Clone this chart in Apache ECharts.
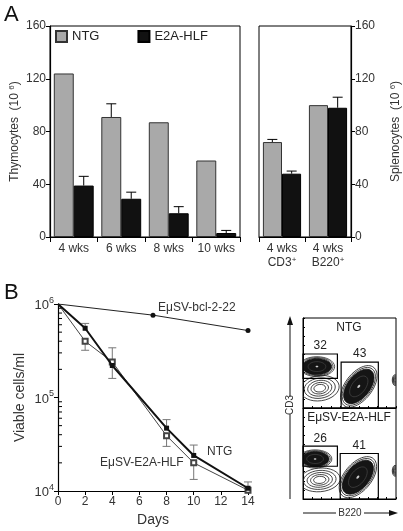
<!DOCTYPE html>
<html>
<head>
<meta charset="utf-8">
<script src="https://cdn.jsdelivr.net/npm/echarts@6/dist/echarts.min.js"></script>
<style>html,body{margin:0;padding:0;background:#fff}#c{width:403px;height:531px}</style>
</head>
<body>
<div id="c"></div>
<script>
// ---------- Panel A data ----------
const thyCats = ['4 wks', '6 wks', '8 wks', '10 wks'];
const thyNTG = [124, 91, 87, 58];
const thyE2A = [39, 29, 18, 3];
const thyNTGErr = [null, 101, null, null];
const thyE2AErr = [46, 34, 23, 5];

const splCats = ['4 wks\nCD3+', '4 wks\nB220+'];
const splNTG = [72, 100];
const splE2A = [48, 98];
const splNTGErr = [74, null];
const splE2AErr = [50, 106];

const barTicks = [0, 40, 80, 120, 160];

// ---------- Panel B data ----------
const days = [0, 2, 4, 8, 10, 14];
const ntgViable = [1e6, 5.5e5, 2.2e5, 4.7e4, 2.4e4, 1.07e4];
const ntgLo = [null, null, 1.6e5, null, null, null];
const ntgHi = [null, 6.2e5, null, 5.8e4, 3.1e4, 1.25e4];
const e2aViable = [1e6, 4.0e5, 2.4e5, 3.9e4, 2.0e4, 1.02e4];
const e2aLo = [null, 3.2e5, null, 3.0e4, 1.33e4, null];
const e2aHi = [null, null, 3.4e5, null, null, null];
const bclDays = [0, 7, 14];
const bclViable = [1e6, 7.6e5, 5.2e5];
const logMinor = [2e4, 3e4, 4e4, 5e4, 6e4, 7e4, 8e4, 9e4, 2e5, 3e5, 4e5, 5e5, 6e5, 7e5, 8e5, 9e5];

// ---------- Flow cytometry (x: B220, y: CD3, arbitrary 0-100 units) ----------
const flowTitles = ['NTG', 'EμSV-E2A-HLF'];
// gates: [x0, y0, x1, y1]
const flowGatesNTG = [[0, 33, 37, 60], [41, 0, 81, 51]];
const flowGatesE2A = [[0, 36, 37, 58], [40, 0, 81, 50]];
const flowPctNTG = [32, 43];
const flowPctE2A = [26, 41];
// populations: [cx, cy, rx, ry, angleDeg, dense(1)/loose(0)]
const flowPopsNTG = [[18, 22, 21, 14, 8, 0], [15, 46, 19, 11, 0, 1], [60, 24, 26, 15, 52, 1], [99, 31, 3, 6, 0, 0]];
const flowPopsE2A = [[18, 21, 22, 13, 5, 0], [13, 44, 18, 10, 0, 1], [59, 24, 26, 15, 50, 1], [99, 31, 3, 6, 0, 0]];

const FONT = 'Liberation Sans, Arial, Helvetica, sans-serif';
const TXT = '#333';

function barErr(sign) {
  return function (params, api) {
    const i = api.value(0), v = api.value(1), e = api.value(2);
    if (e == null || isNaN(e)) return;
    const band = api.size([1, 0])[0];
    const b = api.coord([i, v]), t = api.coord([i, e]);
    const x = b[0] + sign * band * 0.21;
    return {
      type: 'group', children: [
        { type: 'line', shape: { x1: x, y1: b[1], x2: x, y2: t[1] }, style: { stroke: '#000', lineWidth: 1 } },
        { type: 'line', shape: { x1: x - 5, y1: t[1], x2: x + 5, y2: t[1] }, style: { stroke: '#000', lineWidth: 1 } }
      ]
    };
  };
}
function errRows(cats, vals, errs) {
  return vals.map((v, i) => [i, v, errs[i] == null ? NaN : errs[i]]);
}
function lineErr(params, api) {
  const d = api.value(0), v = api.value(1), e = api.value(2);
  if (e == null || isNaN(e)) return;
  const p = api.coord([d, v]), q = api.coord([d, e]);
  return {
    type: 'group', children: [
      { type: 'line', shape: { x1: p[0], y1: p[1], x2: q[0], y2: q[1] }, style: { stroke: '#777', lineWidth: 1 } },
      { type: 'line', shape: { x1: q[0] - 4, y1: q[1], x2: q[0] + 4, y2: q[1] }, style: { stroke: '#777', lineWidth: 1 } }
    ]
  };
}
function vErrRows(vals, ends) {
  const out = [];
  days.forEach((d, i) => { if (ends[i] != null) out.push([d, vals[i], ends[i]]); });
  return out;
}
function minorTick(params, api) {
  const p = api.coord([0, api.value(1)]);
  return { type: 'line', shape: { x1: p[0], y1: p[1], x2: p[0] + 4, y2: p[1] }, style: { stroke: '#000', lineWidth: 1 } };
}
function popRender(params, api) {
  const cx = api.value(0), cy = api.value(1), rx = api.value(2), ry = api.value(3), ang = api.value(4), dense = api.value(5);
  const c = api.coord([cx, cy]);
  const s = api.size([rx, ry]);
  const children = [];
  const ring = (k, st) => children.push({ type: 'ellipse', shape: { cx: 0, cy: 0, rx: s[0] * k, ry: s[1] * k }, style: st });
  if (dense) {
    ring(1, { fill: null, stroke: '#222', lineWidth: 0.8 });
    ring(0.91, { fill: null, stroke: '#222', lineWidth: 0.8 });
    ring(0.83, { fill: '#151515', stroke: '#111', lineWidth: 0.8 });
    ring(0.5, { fill: null, stroke: '#555', lineWidth: 0.5 });
    ring(0.08, { fill: '#ccc', stroke: null });
  } else {
    [1, 0.8, 0.62, 0.45, 0.3].forEach(k => ring(k, { fill: null, stroke: '#222', lineWidth: 0.8 }));
  }
  return { type: 'group', x: c[0], y: c[1], rotation: ang * Math.PI / 180, children: children };
}
function gateRender(params, api) {
  const a = api.coord([api.value(0), api.value(3)]);
  const b = api.coord([api.value(2), api.value(1)]);
  const lab = api.value(4);
  return {
    type: 'group', children: [
      { type: 'rect', shape: { x: a[0], y: a[1], width: b[0] - a[0], height: b[1] - a[1] }, style: { fill: null, stroke: '#000', lineWidth: 1.2 } },
      { type: 'text', x: (a[0] + b[0]) / 2, y: a[1] - 2, style: { text: String(lab), fill: '#222', font: '12px ' + FONT, align: 'center', verticalAlign: 'bottom' } }
    ]
  };
}

const supRich = { a: { fontSize: 12, fontFamily: FONT, color: TXT, lineHeight: 14 }, s: { fontSize: 8, fontFamily: FONT, color: TXT, verticalAlign: 'top', lineHeight: 14 } };
const logRich = { b: { fontSize: 13, fontFamily: FONT, color: TXT, lineHeight: 16, verticalAlign: 'bottom' }, s: { fontSize: 9, fontFamily: FONT, color: TXT, verticalAlign: 'top', lineHeight: 16 } };

const flowAxis = (gi) => ({
  type: 'value', gridIndex: gi, min: 0, max: 100, interval: 10,
  axisLine: { show: true, lineStyle: { color: '#000' } },
  axisTick: { show: true, inside: true, length: 2, lineStyle: { color: '#000' } },
  axisLabel: { show: false }, splitLine: { show: false }
});

const chart = echarts.init(document.getElementById('c'), null, { renderer: 'canvas' });
chart.setOption({
  animation: false,
  backgroundColor: '#fff',
  textStyle: { fontFamily: FONT },
  legend: {
    data: ['NTG', 'E2A-HLF'], left: 55, top: 30, itemWidth: 11, itemHeight: 11, itemGap: 38, icon: 'rect',
    textStyle: { fontSize: 13, color: '#222', fontFamily: FONT }, padding: 0, selectedMode: false
  },
  grid: [
    { left: 50, top: 26, width: 190, height: 211, show: true, borderColor: '#000', borderWidth: 1, backgroundColor: 'transparent' },
    { left: 259, top: 26, width: 97, height: 211, show: true, borderColor: '#000', borderWidth: 1, backgroundColor: 'transparent' },
    { left: 58, top: 304, width: 190, height: 187 },
    { left: 303, top: 318, width: 93, height: 90, show: true, borderColor: '#000', borderWidth: 1, backgroundColor: 'transparent' },
    { left: 303, top: 408, width: 93, height: 91, show: true, borderColor: '#000', borderWidth: 1, backgroundColor: 'transparent' }
  ],
  xAxis: [
    { type: 'category', gridIndex: 0, data: thyCats,
      axisLine: { lineStyle: { color: '#000', width: 1.2 } }, axisTick: { show: true, length: 5, interval: 0, lineStyle: { color: '#000' } },
      axisLabel: { interval: 0, fontSize: 12, color: TXT, margin: 6, fontFamily: FONT } },
    { type: 'category', gridIndex: 1, data: splCats,
      axisLine: { lineStyle: { color: '#000', width: 1.2 } }, axisTick: { show: true, length: 5, interval: 0, lineStyle: { color: '#000' } },
      axisLabel: { interval: 0, margin: 5, rich: supRich,
        formatter: v => { const p = v.split('\n'); return '{a|' + p[0] + '}\n{a|' + p[1].slice(0, -1) + '}{s|+}'; } } },
    { type: 'value', gridIndex: 2, min: 0, max: 14, interval: 2,
      axisLine: { lineStyle: { color: '#000', width: 1.2 } }, axisTick: { length: 4, lineStyle: { color: '#000' } },
      axisLabel: { fontSize: 12, color: TXT, margin: 5, fontFamily: FONT }, splitLine: { show: false },
      name: 'Days', nameLocation: 'middle', nameGap: 22, nameTextStyle: { fontSize: 14, color: TXT, fontFamily: FONT } },
    flowAxis(3), flowAxis(4)
  ],
  yAxis: [
    { type: 'value', gridIndex: 0, min: 0, max: 160, interval: 40,
      axisLine: { show: true, lineStyle: { color: '#000', width: 1.2 } }, axisTick: { show: true, length: 4, lineStyle: { color: '#000' } },
      axisLabel: { fontSize: 12, color: TXT, margin: 4, fontFamily: FONT }, splitLine: { show: false },
      name: '{a|Thymocytes  (10 }{s|6}{a|)}', nameLocation: 'middle', nameGap: 28, nameRotate: 90,
      nameTextStyle: { rich: supRich } },
    { type: 'value', gridIndex: 1, min: 0, max: 160, interval: 40, position: 'right',
      axisLine: { show: true, lineStyle: { color: '#000', width: 1.2 } }, axisTick: { show: true, length: 4, lineStyle: { color: '#000' } },
      axisLabel: { fontSize: 12, color: TXT, margin: 4, fontFamily: FONT }, splitLine: { show: false },
      name: '{a|Splenocytes  (10 }{s|6}{a|)}', nameLocation: 'middle', nameGap: 38, nameRotate: 90,
      nameTextStyle: { rich: supRich } },
    { type: 'log', gridIndex: 2, min: 1e4, max: 1e6, logBase: 10, interval: 1,
      axisLine: { show: true, lineStyle: { color: '#000', width: 1.2 } }, axisTick: { show: true, length: 4, lineStyle: { color: '#000' } },
      axisLabel: { margin: 4, rich: logRich, formatter: v => '{b|10}{s|' + Math.round(Math.log10(v)) + '}' },
      splitLine: { show: false }, minorTick: { show: false },
      name: 'Viable cells/ml', nameLocation: 'middle', nameGap: 31, nameRotate: 90,
      nameTextStyle: { fontSize: 14, color: TXT, fontFamily: FONT } },
    flowAxis(3), flowAxis(4)
  ],
  series: [
    // Thymocytes
    { name: 'NTG', type: 'bar', xAxisIndex: 0, yAxisIndex: 0, data: thyNTG, barGap: '0%', barCategoryGap: '16%',
      itemStyle: { color: '#a9a9a9', borderColor: '#333', borderWidth: 1 } },
    { name: 'E2A-HLF', type: 'bar', xAxisIndex: 0, yAxisIndex: 0, data: thyE2A, barGap: '0%', barCategoryGap: '16%',
      itemStyle: { color: '#111', borderColor: '#000', borderWidth: 1 } },
    { type: 'custom', xAxisIndex: 0, yAxisIndex: 0, renderItem: barErr(-1), data: errRows(thyCats, thyNTG, thyNTGErr), encode: { x: 0, y: [1, 2] }, z: 5 },
    { type: 'custom', xAxisIndex: 0, yAxisIndex: 0, renderItem: barErr(1), data: errRows(thyCats, thyE2A, thyE2AErr), encode: { x: 0, y: [1, 2] }, z: 5 },
    // Splenocytes
    { name: 'NTG', type: 'bar', xAxisIndex: 1, yAxisIndex: 1, data: splNTG, barGap: '0%', barCategoryGap: '17%',
      itemStyle: { color: '#a9a9a9', borderColor: '#333', borderWidth: 1 } },
    { name: 'E2A-HLF', type: 'bar', xAxisIndex: 1, yAxisIndex: 1, data: splE2A, barGap: '0%', barCategoryGap: '17%',
      itemStyle: { color: '#111', borderColor: '#000', borderWidth: 1 } },
    { type: 'custom', xAxisIndex: 1, yAxisIndex: 1, renderItem: barErr(-1), data: errRows(splCats, splNTG, splNTGErr), encode: { x: 0, y: [1, 2] }, z: 5 },
    { type: 'custom', xAxisIndex: 1, yAxisIndex: 1, renderItem: barErr(1), data: errRows(splCats, splE2A, splE2AErr), encode: { x: 0, y: [1, 2] }, z: 5 },
    // Viability
    { type: 'custom', xAxisIndex: 2, yAxisIndex: 2, renderItem: minorTick, data: logMinor.map(v => [0, v]), encode: { x: 0, y: 1 }, silent: true },
    { type: 'custom', xAxisIndex: 2, yAxisIndex: 2, renderItem: lineErr,
      data: [].concat(vErrRows(ntgViable, ntgLo), vErrRows(ntgViable, ntgHi), vErrRows(e2aViable, e2aLo), vErrRows(e2aViable, e2aHi)),
      encode: { x: 0, y: [1, 2] }, z: 1 },
    { name: 'bcl', type: 'line', xAxisIndex: 2, yAxisIndex: 2,
      data: bclDays.map((d, i) => ({ value: [d, bclViable[i]], symbol: i === 0 ? 'none' : 'circle' })),
      symbolSize: 5, lineStyle: { color: '#222', width: 1 }, itemStyle: { color: '#111' }, z: 3 },
    { name: 'e2aV', type: 'line', xAxisIndex: 2, yAxisIndex: 2,
      data: days.map((d, i) => ({ value: [d, e2aViable[i]], symbol: i === 0 ? 'none' : 'emptyRect' })),
      symbolSize: 5, lineStyle: { color: '#444', width: 1 }, itemStyle: { color: '#444', borderColor: '#444', borderWidth: 0.8 }, z: 3 },
    { name: 'ntgV', type: 'line', xAxisIndex: 2, yAxisIndex: 2,
      data: days.map((d, i) => ({ value: [d, ntgViable[i]], symbol: i === 0 ? 'none' : 'rect' })),
      symbolSize: 5, lineStyle: { color: '#111', width: 2 }, itemStyle: { color: '#111' }, z: 4 },
    // Flow NTG
    { type: 'custom', xAxisIndex: 3, yAxisIndex: 3, renderItem: popRender, data: flowPopsNTG, clip: true, encode: { x: 0, y: 1 } },
    { type: 'custom', xAxisIndex: 3, yAxisIndex: 3, renderItem: gateRender, data: flowGatesNTG.map((g, i) => g.concat([flowPctNTG[i]])), encode: { x: [0, 2], y: [1, 3] }, z: 5 },
    // Flow E2A
    { type: 'custom', xAxisIndex: 4, yAxisIndex: 4, renderItem: popRender, data: flowPopsE2A, clip: true, encode: { x: 0, y: 1 } },
    { type: 'custom', xAxisIndex: 4, yAxisIndex: 4, renderItem: gateRender, data: flowGatesE2A.map((g, i) => g.concat([flowPctE2A[i]])), encode: { x: [0, 2], y: [1, 3] }, z: 5 }
  ],
  graphic: [
    { type: 'text', left: 4, top: 4, style: { text: 'A', font: '22px ' + FONT, fill: '#111' } },
    { type: 'text', left: 4, top: 282, style: { text: 'B', font: '22px ' + FONT, fill: '#111' } },
    { type: 'text', x: 158, y: 308, style: { text: 'EμSV-bcl-2-22', font: '12px ' + FONT, fill: TXT, verticalAlign: 'middle' } },
    { type: 'text', x: 207, y: 452, style: { text: 'NTG', font: '12px ' + FONT, fill: TXT, verticalAlign: 'middle' } },
    { type: 'text', x: 100, y: 463, style: { text: 'EμSV-E2A-HLF', font: '12px ' + FONT, fill: TXT, verticalAlign: 'middle' } },
    { type: 'text', x: 349, y: 328, style: { text: flowTitles[0], font: '12px ' + FONT, fill: '#222', align: 'center', verticalAlign: 'middle' } },
    { type: 'text', x: 349, y: 418, style: { text: flowTitles[1], font: '12px ' + FONT, fill: '#222', align: 'center', verticalAlign: 'middle' } },
    // CD3 arrow
    { type: 'line', shape: { x1: 290, y1: 499, x2: 290, y2: 414 }, style: { stroke: '#111', lineWidth: 1 } },
    { type: 'line', shape: { x1: 290, y1: 397, x2: 290, y2: 322 }, style: { stroke: '#111', lineWidth: 1 } },
    { type: 'polygon', shape: { points: [[290, 316], [287, 325], [293, 325]] }, style: { fill: '#111' } },
    { type: 'text', x: 290, y: 405, rotation: Math.PI / 2, style: { text: 'CD3', font: '10px ' + FONT, fill: TXT, align: 'center', verticalAlign: 'middle' } },
    // B220 arrow
    { type: 'line', shape: { x1: 303, y1: 513, x2: 336, y2: 513 }, style: { stroke: '#111', lineWidth: 1 } },
    { type: 'line', shape: { x1: 364, y1: 513, x2: 391, y2: 513 }, style: { stroke: '#111', lineWidth: 1 } },
    { type: 'polygon', shape: { points: [[398, 513], [389, 510], [389, 516]] }, style: { fill: '#111' } },
    { type: 'text', x: 350, y: 513, style: { text: 'B220', font: '10px ' + FONT, fill: TXT, align: 'center', verticalAlign: 'middle' } }
  ]
});
</script>
</body>
</html>
